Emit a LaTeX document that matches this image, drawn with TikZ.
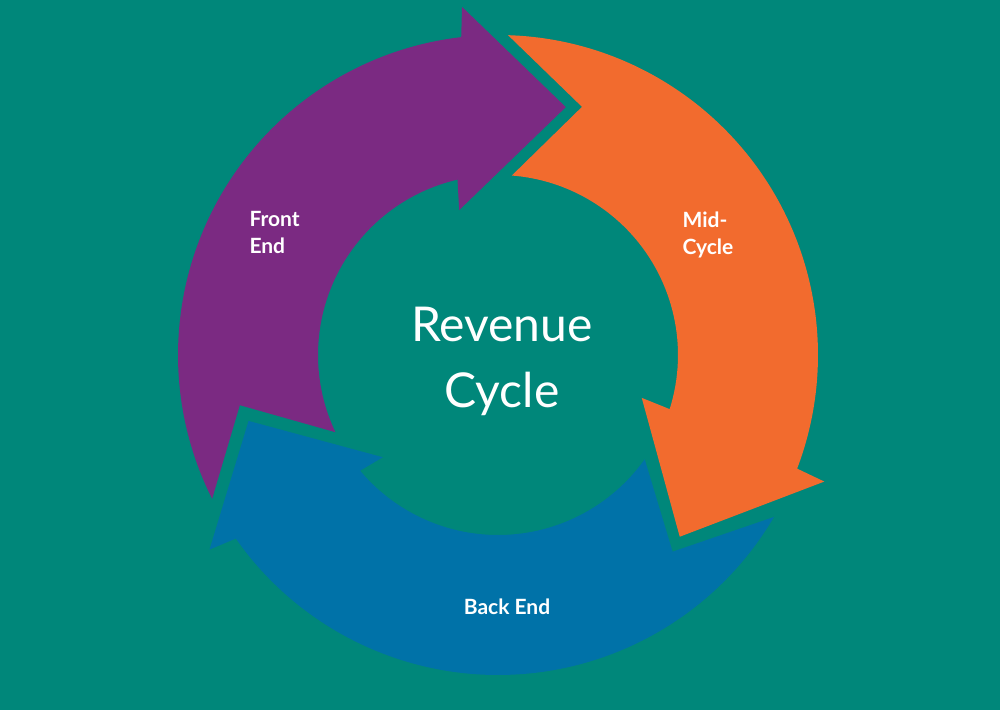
\documentclass[tikz,border=0pt]{standalone}
\usepackage{fontspec}
\setmainfont{Lato}
\definecolor{bg}{HTML}{00877A}
\definecolor{pur}{HTML}{7B2A82}
\definecolor{ora}{HTML}{F26B2E}
\definecolor{blu}{HTML}{0072A8}
\begin{document}
\begin{tikzpicture}[x=1pt,y=1pt,
  lbl/.style={text=white,font=\fontsize{21}{27}\selectfont\bfseries,align=left},
  shapefill/.style={draw=none}]
\fill[bg] (-498,-355) rectangle (502,355);
\useasboundingbox (-498,-355) rectangle (502,355);
% purple
\fill[pur] (206.7:320) arc[start angle=206.7,end angle=96.6,radius=320]
  -- (95.9:350) -- (74.7:257) -- (105:150) -- (103:180)
  arc[start angle=103,end angle=205.4,radius=180] -- (191:263) -- cycle;
% orange
\fill[ora] (88.2:320) arc[start angle=88.2,end angle=-20.8,radius=320]
  -- (-21.2:350) -- (-45:257) -- (-16.6:150) -- (-17.5:180)
  arc[start angle=-17.5,end angle=85.6,radius=180] -- (71.3:262) -- cycle;
% blue
\fill[blu] (-30.4:320) arc[start angle=-30.4,end angle=-145,radius=320]
  -- (214:348) -- (194.8:258) -- (221.6:154) -- (220:180)
  arc[start angle=220,end angle=324.6,radius=180] -- (-48.4:263) -- cycle;
\node[lbl,anchor=north west] (fe) at (-252,147) {Front\\End};
\node[lbl,anchor=north west] (mc) at (181,147) {Mid-\\Cycle};
\node[lbl] (be) at (9,-252) {Back End};
\node[text=white,font=\fontsize{48}{66}\selectfont,align=center] (rc) at (4,-6) {Revenue\\Cycle};
\end{tikzpicture}
\end{document}
